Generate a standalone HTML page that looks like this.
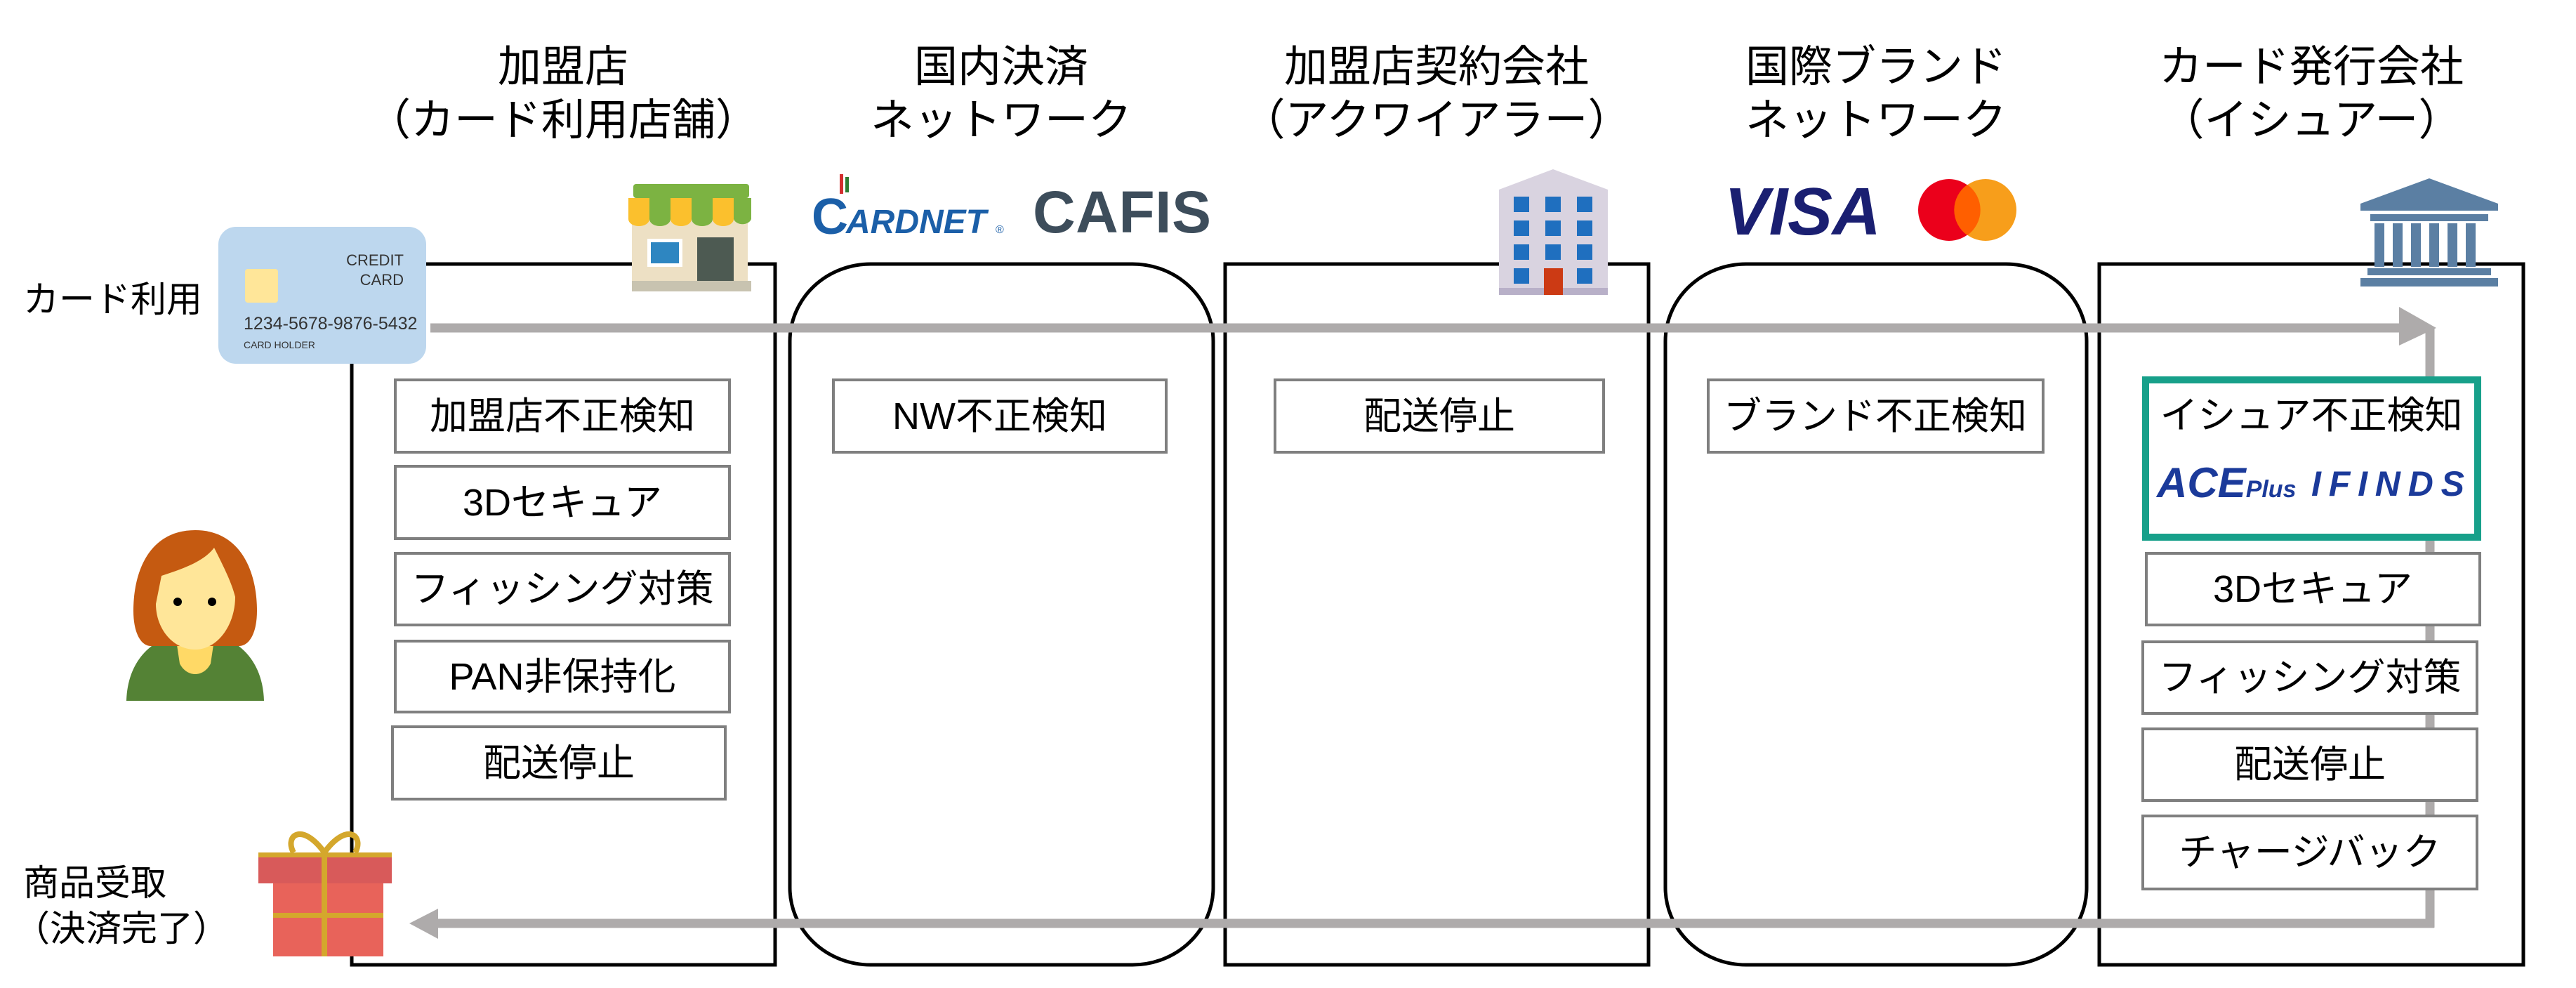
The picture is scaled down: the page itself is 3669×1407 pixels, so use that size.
<!DOCTYPE html>
<html><head><meta charset="utf-8"><style>
html,body{margin:0;padding:0;background:#fff;}
svg{display:block;}
text{font-family:"Liberation Sans","Noto Sans CJK JP",sans-serif;fill:#000;}
</style></head><body>
<svg width="3669" height="1407" viewBox="0 0 3669 1407" xmlns="http://www.w3.org/2000/svg">
<g font-size="62" text-anchor="middle">
<text x="802" y="116">加盟店</text><text x="802" y="192">（カード利用店舗）</text>
<text x="1426" y="116">国内決済</text><text x="1426" y="192">ネットワーク</text>
<text x="2046" y="116">加盟店契約会社</text><text x="2046" y="192">（アクワイアラー）</text>
<text x="2672" y="116">国際ブランド</text><text x="2672" y="192">ネットワーク</text>
<text x="3292" y="116">カード発行会社</text><text x="3292" y="192">（イシュアー）</text>
</g>
<g fill="none" stroke="#000" stroke-width="5">
<rect x="501" y="376" width="603" height="998"/>
<rect x="1125" y="376" width="603" height="998" rx="115" ry="110"/>
<rect x="1745" y="376" width="603" height="998"/>
<rect x="2372" y="376" width="600" height="998" rx="115" ry="110"/>
<rect x="2990" y="376" width="604" height="998"/>
</g>
<line x1="3461" y1="467" x2="3461" y2="1321" stroke="#aeabab" stroke-width="13"/>
<line x1="613" y1="467" x2="3430" y2="467" stroke="#aeabab" stroke-width="13"/>
<polygon points="3417,437 3470,467 3417,492" fill="#aeabab"/>
<line x1="3467" y1="1315" x2="610" y2="1315" stroke="#aeabab" stroke-width="13"/>
<polygon points="624,1294 583,1315 624,1337" fill="#aeabab"/>
<g fill="#fff" stroke="#7f7f7f" stroke-width="4">
<rect x="563" y="541" width="476" height="103"/>
<rect x="563" y="664" width="476" height="103"/>
<rect x="563" y="788" width="476" height="102"/>
<rect x="563" y="913" width="476" height="101"/>
<rect x="559" y="1035" width="474" height="103"/>
<rect x="1187" y="541" width="474" height="103"/>
<rect x="1816" y="541" width="468" height="103"/>
<rect x="2433" y="541" width="477" height="103"/>
<rect x="3057" y="788" width="475" height="102"/>
<rect x="3052" y="914" width="476" height="102"/>
<rect x="3052" y="1038" width="476" height="102"/>
<rect x="3052" y="1162" width="476" height="104"/>
</g>
<rect x="3056" y="541" width="473" height="224" fill="#fff" stroke="#17a08a" stroke-width="10"/>
<g font-size="54" text-anchor="middle">
<text x="801" y="611">加盟店不正検知</text>
<text x="801" y="734">3Dセキュア</text>
<text x="801" y="857">フィッシング対策</text>
<text x="801" y="982">PAN非保持化</text>
<text x="796" y="1105">配送停止</text>
<text x="1424" y="611">NW不正検知</text>
<text x="2050" y="611">配送停止</text>
<text x="2671" y="611">ブランド不正検知</text>
<text x="3292" y="610">イシュア不正検知</text>
<text x="3294" y="857">3Dセキュア</text>
<text x="3290" y="983">フィッシング対策</text>
<text x="3290" y="1107">配送停止</text>
<text x="3290" y="1232">チャージバック</text>
</g>
<text x="3072" y="708" font-family="Liberation Sans,sans-serif" font-weight="bold" font-style="italic" font-size="60" style="fill:#1b3a9a">ACE<tspan font-size="34">Plus</tspan></text>
<text x="3292" y="706" font-family="Liberation Sans,sans-serif" font-weight="bold" font-style="italic" font-size="50" textLength="218" style="fill:#1b3a9a">IFINDS</text>
<g font-size="51">
<text x="33" y="444">カード利用</text>
<text x="33" y="1275">商品受取</text>
<text x="20" y="1340">（決済完了）</text>
</g>
<rect x="311" y="323" width="296" height="195" rx="25" fill="#bdd7ee"/>
<rect x="349" y="383" width="47" height="48" rx="4" fill="#ffe699"/>
<g font-size="22">
<text x="575" y="378" text-anchor="end" style="fill:#333">CREDIT</text>
<text x="575" y="406" text-anchor="end" style="fill:#333">CARD</text>
<text x="347" y="469" font-size="25" style="fill:#333">1234-5678-9876-5432</text>
<text x="347" y="496" font-size="14" style="fill:#333">CARD HOLDER</text>
</g>
<path d="M180,998 C182,930 230,900 278,900 C326,900 374,930 376,998 Z" fill="#548235"/>
<path d="M250,905 L306,905 L300,945 C290,965 266,965 256,945 Z" fill="#ffd966"/>
<path d="M278,755 C215,755 190,810 190,870 C190,900 200,920 215,920 L340,920 C356,920 366,900 366,870 C366,810 340,755 278,755 Z" fill="#c55a11"/>
<path d="M230,820 C260,810 290,800 305,780 C320,810 330,830 335,850 C335,890 310,925 278,925 C246,925 222,895 222,860 Z" fill="#ffe699"/>
<circle cx="253" cy="857" r="6" fill="#000"/><circle cx="302" cy="857" r="6" fill="#000"/>
<rect x="389" y="1220" width="157" height="142" fill="#e8635a"/>
<rect x="368" y="1218" width="190" height="40" fill="#d85a5a"/>
<rect x="368" y="1214" width="190" height="7" fill="#d4a72c"/>
<rect x="458" y="1214" width="8" height="148" fill="#d4a72c"/>
<rect x="389" y="1300" width="157" height="7" fill="#d4a72c"/>
<path d="M462,1214 C430,1170 405,1190 418,1214 M462,1214 C494,1170 519,1190 506,1214" fill="none" stroke="#d4a72c" stroke-width="8"/>
<rect x="900" y="300" width="165" height="105" fill="#ede0c4"/>
<rect x="922" y="340" width="50" height="40" fill="#fff"/><rect x="927" y="345" width="40" height="30" fill="#2e86c1"/>
<rect x="993" y="338" width="52" height="75" fill="#4d5a52"/>
<rect x="900" y="400" width="170" height="15" fill="#c8c3b0"/>
<rect x="902" y="262" width="165" height="20" rx="4" fill="#7cb342"/>
<path d="M895,282 h30 v30 a15,10 0 0 1 -30,0 Z" fill="#fbc02d"/>
<path d="M925,282 h30 v30 a15,10 0 0 1 -30,0 Z" fill="#7cb342"/>
<path d="M955,282 h30 v30 a15,10 0 0 1 -30,0 Z" fill="#fbc02d"/>
<path d="M985,282 h30 v30 a15,10 0 0 1 -30,0 Z" fill="#7cb342"/>
<path d="M1015,282 h30 v30 a15,10 0 0 1 -30,0 Z" fill="#fbc02d"/>
<path d="M1045,282 h25 v30 a13,10 0 0 1 -25,0 Z" fill="#7cb342"/>
<text x="1156" y="333" font-family="Liberation Sans,sans-serif" font-size="72" font-weight="bold" style="fill:#1b5fa8">C</text>
<text x="1205" y="332" font-family="Liberation Sans,sans-serif" font-size="48" font-weight="bold" font-style="italic" style="fill:#1b5fa8">ARDNET</text>
<text x="1418" y="332" font-family="Liberation Sans,sans-serif" font-size="16" style="fill:#1b5fa8">®</text>
<rect x="1196" y="248" width="5" height="28" fill="#d32f2f"/><rect x="1204" y="252" width="5" height="22" fill="#2e7d32"/>
<text x="1471" y="331" font-family="Liberation Serif,serif" font-size="84" font-weight="bold" textLength="254" style="fill:#3d4d5b">CAFIS</text>
<polygon points="2135,270 2212,241 2290,270 2290,420 2135,420" fill="#d9d3e0"/>
<rect x="2135" y="410" width="155" height="10" fill="#b8b0c8"/>
<g fill="#1f6fbf">
<rect x="2156" y="280" width="22" height="22"/><rect x="2201" y="280" width="22" height="22"/><rect x="2246" y="280" width="22" height="22"/>
<rect x="2156" y="314" width="22" height="22"/><rect x="2201" y="314" width="22" height="22"/><rect x="2246" y="314" width="22" height="22"/>
<rect x="2156" y="348" width="22" height="22"/><rect x="2201" y="348" width="22" height="22"/><rect x="2246" y="348" width="22" height="22"/>
<rect x="2156" y="382" width="22" height="22"/><rect x="2246" y="382" width="22" height="22"/>
</g>
<rect x="2199" y="382" width="27" height="38" fill="#cc3a14"/>
<text x="2456" y="334" font-family="Liberation Sans,sans-serif" font-size="96" font-weight="bold" font-style="italic" textLength="223" style="fill:#1a1f71">VISA</text>
<circle cx="2776" cy="299" r="44" fill="#eb001b"/>
<circle cx="2828" cy="299" r="44" fill="#f79e1b"/>
<path d="M2802,263 a44,44 0 0 1 0,72 a44,44 0 0 1 0,-72 Z" fill="#ff5f00"/>
<g fill="#5b7fa3">
<polygon points="3362,290 3460,254 3558,290 3558,300 3362,300"/>
<rect x="3376" y="305" width="168" height="10"/>
<rect x="3382" y="318" width="14" height="62"/><rect x="3408" y="318" width="14" height="62"/><rect x="3434" y="318" width="14" height="62"/><rect x="3460" y="318" width="14" height="62"/><rect x="3486" y="318" width="14" height="62"/><rect x="3512" y="318" width="14" height="62"/>
<rect x="3372" y="382" width="176" height="10"/>
<rect x="3362" y="396" width="196" height="12"/>
</g>
</svg>
</body></html>
